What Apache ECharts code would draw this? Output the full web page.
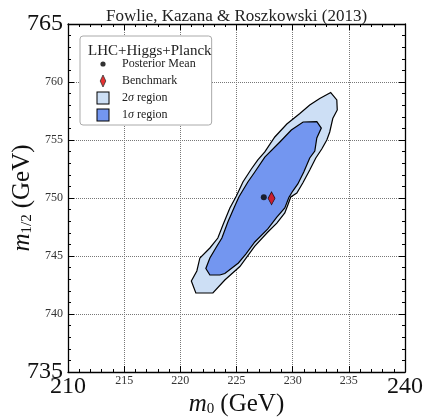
<!DOCTYPE html>
<html>
<head>
<meta charset="utf-8">
<script src="https://cdn.jsdelivr.net/npm/echarts@6/dist/echarts.min.js"></script>
<style>
  html, body { margin: 0; padding: 0; background: #fff; }
  #chart { width: 423px; height: 417px; }
</style>
</head>
<body>
<div id="chart"></div>
<script>
// axis ticks
var xTicks = [210, 215, 220, 225, 230, 235, 240];
var yTicks = [735, 740, 745, 750, 755, 760, 765];

// 2 sigma contour (m0, m1/2)
var outerX = [233.39, 233.93, 233.97, 233.57, 233.30, 233.04, 232.59, 232.06, 231.52, 230.90,
              230.37, 229.83, 229.57, 229.30, 228.59, 227.79, 226.63, 225.30, 223.96, 222.90,
              221.38, 220.98, 221.47, 221.74, 222.63, 223.34, 223.79, 224.41, 224.99, 225.57,
              226.32, 226.90, 227.52, 228.41, 229.48, 230.64, 231.52, 232.41];
var outerY = [759.09, 758.45, 757.59, 756.85, 755.69, 755.00, 754.22, 753.45, 752.41, 751.29,
              750.43, 750.09, 749.40, 748.71, 747.84, 747.07, 745.86, 744.09, 742.93, 741.81,
              741.81, 742.84, 743.71, 744.83, 745.69, 746.55, 747.67, 749.14, 750.17, 751.38,
              752.50, 753.28, 753.97, 755.26, 756.38, 757.28, 758.02, 758.58];

// 1 sigma contour
var innerX = [230.93, 232.15, 232.55, 232.15, 231.97, 231.52, 230.99, 230.46, 230.01, 229.66,
              229.30, 228.59, 227.79, 226.63, 225.83, 225.17, 223.96, 223.52, 222.63, 222.27,
              222.63, 223.21, 223.70, 224.23, 224.85, 225.21, 226.01, 226.63, 227.52, 228.86,
              229.88];
var innerY = [756.55, 756.59, 756.03, 755.17, 754.05, 753.45, 752.24, 751.21, 750.60, 750.04,
              749.14, 748.36, 747.33, 746.21, 745.17, 744.40, 743.49, 743.36, 743.36, 743.92,
              744.83, 745.78, 746.55, 747.93, 749.31, 750.09, 751.38, 752.24, 753.53, 754.83,
              755.86];

var posteriorMean = [227.43, 750.06];
var benchmark = [228.12, 749.97];

var serif = '"Liberation Serif", "DejaVu Serif", serif';

function svgIcon(body) {
    return 'image://data:image/svg+xml;charset=utf-8,' + encodeURIComponent(
        '<svg xmlns="http://www.w3.org/2000/svg" width="28" height="14" viewBox="0 0 28 14">' + body + '</svg>');
}

function contour(name, xs, ys, fill) {
    return {
        type: 'custom',
        name: name,
        clip: false,
        data: xs.map(function (x, i) { return [x, ys[i]]; }),
        encode: { x: 0, y: 1 },
        renderItem: function (params, api) {
            if (params.dataIndex !== 0) return null;
            var pts = xs.map(function (x, i) { return api.coord([x, ys[i]]); });
            return {
                type: 'polygon',
                shape: { points: pts },
                style: { fill: fill, stroke: '#000', lineWidth: 1.2 }
            };
        }
    };
}

var chart = echarts.init(document.getElementById('chart'));

var tickLabel = function (ticks) {
    return function (v) {
        if (v === ticks[0] || v === ticks[ticks.length - 1]) return '{big|' + v + '}';
        return '{small|' + v + '}';
    };
};
var labelRich = {
    big: { fontSize: 24, color: '#111', fontFamily: serif },
    small: { fontSize: 12, color: '#333', fontFamily: serif }
};
var nameRich = {
    i: { fontSize: 25, fontStyle: 'italic', fontFamily: serif, lineHeight: 26, color: '#111' },
    s: { fontSize: 15, fontFamily: serif, lineHeight: 12, verticalAlign: 'bottom', color: '#111', padding: [0, 6, 0, 0] },
    n: { fontSize: 25, fontFamily: serif, lineHeight: 26, color: '#111' }
};

function mainAxis(ticks, pos, name, gap) {
    return {
        type: 'value',
        position: pos,
        min: ticks[0],
        max: ticks[ticks.length - 1],
        interval: 5,
        name: name,
        nameLocation: 'middle',
        nameGap: gap,
        nameMoveOverlap: false,
        nameTextStyle: { rich: nameRich },
        axisLine: { show: true, onZero: false, lineStyle: { color: '#000', width: 1.3 } },
        axisTick: { show: true, inside: true, length: 6, lineStyle: { color: '#000' } },
        minorTick: { show: true, splitNumber: 5, length: 3, lineStyle: { color: '#000' } },
        splitLine: { show: true, lineStyle: { color: '#777', type: 'dotted', width: 1 } },
        axisLabel: { margin: pos === 'bottom' ? 3 : 5, formatter: tickLabel(ticks), rich: labelRich }
    };
}
function mirrorAxis(ticks, pos) {
    return {
        type: 'value',
        position: pos,
        min: ticks[0],
        max: ticks[ticks.length - 1],
        interval: 5,
        axisLine: { show: true, onZero: false, lineStyle: { color: '#000', width: 1.3 } },
        axisTick: { show: true, inside: true, length: 6, lineStyle: { color: '#000' } },
        minorTick: { show: true, splitNumber: 5, length: 3, lineStyle: { color: '#000' } },
        splitLine: { show: false },
        axisLabel: { show: false }
    };
}

var option = {
    animation: false,
    backgroundColor: '#fff',
    title: [
        {
            text: 'Fowlie, Kazana & Roszkowski (2013)',
            left: 101, top: 3,
            textStyle: { fontFamily: serif, fontSize: 17, fontWeight: 'normal', color: '#222' }
        },
        {
            text: 'LHC+Higgs+Planck',
            left: 83, top: 39, z: 10,
            textStyle: { fontFamily: serif, fontSize: 15, fontWeight: 'normal', color: '#222' }
        }
    ],
    grid: { left: 68, right: 18, top: 24, bottom: 45, containLabel: false, outerBoundsMode: 'none' },
    xAxis: [
        mainAxis(xTicks, 'bottom', '{i|m}{s|0}{n|(GeV)}', 19),
        mirrorAxis(xTicks, 'top')
    ],
    yAxis: [
        mainAxis(yTicks, 'left', '{i|m}{s|1/2}{n|(GeV)}', 33),
        mirrorAxis(yTicks, 'right')
    ],
    legend: {
        orient: 'vertical',
        left: 80, top: 36,
        padding: [21, 16, 3, 9],
        itemWidth: 28, itemHeight: 14, itemGap: 3,
        backgroundColor: '#fff',
        borderColor: '#aaa', borderWidth: 1, borderRadius: 3,
        selectedMode: false,
        textStyle: { fontFamily: serif, fontSize: 12, color: '#222',
            rich: { g: { fontFamily: serif, fontSize: 12, fontStyle: 'italic', color: '#222' } } },
        formatter: function (n) { return n.replace('σ', '{g|σ}'); },
        data: [
            { name: 'Posterior Mean', icon: svgIcon('<circle cx="14" cy="7" r="2.6" fill="#000"/>') },
            { name: 'Benchmark', icon: svgIcon('<polygon points="14,1 16.8,7 14,13 11.2,7" fill="#e00000" stroke="#000" stroke-width="0.8"/>') },
            { name: '2σ region', icon: svgIcon('<rect x="8" y="1" width="12" height="12" fill="#cddff5" stroke="#000" stroke-width="1"/>') },
            { name: '1σ region', icon: svgIcon('<rect x="8" y="1" width="12" height="12" fill="#7396f0" stroke="#000" stroke-width="1"/>') }
        ]
    },
    series: [
        contour('2σ region', outerX, outerY, '#cddff5'),
        contour('1σ region', innerX, innerY, '#7396f0'),
        {
            type: 'scatter', name: 'Posterior Mean', z: 5,
            symbol: 'circle', symbolSize: 6,
            itemStyle: { color: '#000' },
            data: [posteriorMean]
        },
        {
            type: 'scatter', name: 'Benchmark', z: 5,
            symbol: 'diamond', symbolSize: [7, 13],
            itemStyle: { color: '#e00000', borderColor: '#000', borderWidth: 0.8 },
            data: [benchmark]
        }
    ]
};
chart.setOption(option);
window.addEventListener('resize', function () { chart.resize(); });
</script>
</body>
</html>
